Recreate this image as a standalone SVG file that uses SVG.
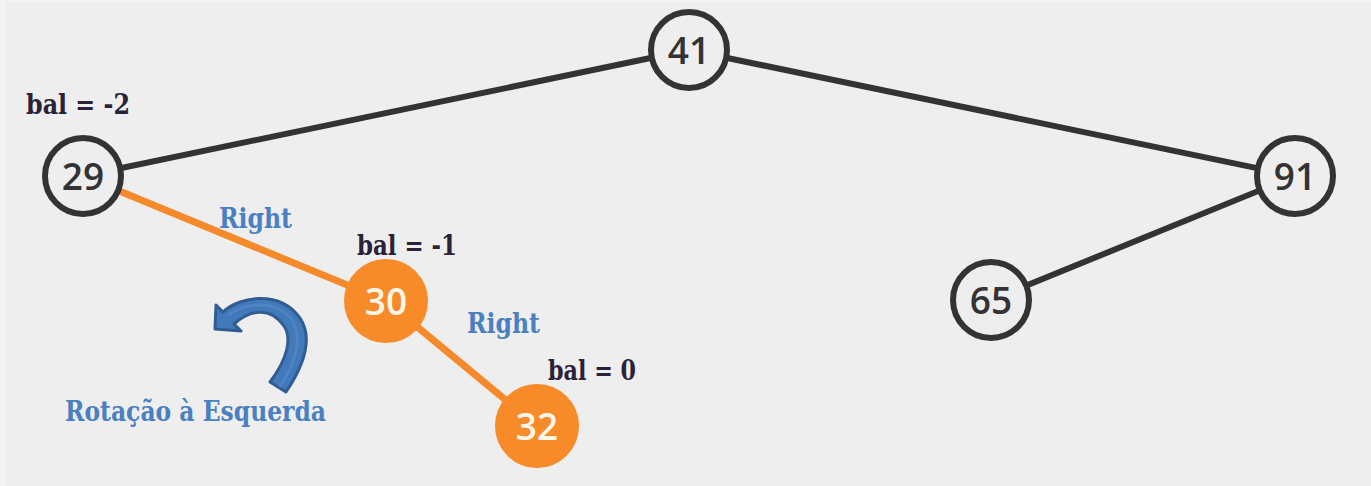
<svg xmlns="http://www.w3.org/2000/svg" width="1371" height="486" viewBox="0 0 1371 486">
  <style>
    .edge { stroke: #333333; stroke-width: 6; fill: none; stroke-linecap: round; }
    .edge-hot { stroke: #f58a2c; stroke-width: 7; fill: none; stroke-linecap: round; }
    .node { fill: #eeeeee; stroke: #333333; stroke-width: 6; }
    .node-hot { fill: #f78b2a; stroke: #f78b2a; stroke-width: 2; }
    .key { font-family: "Open Sans", "Noto Sans", sans-serif; font-weight: 600; font-size: 37px; text-anchor: middle; fill: #333333; }
    .key-hot { fill: #fff6ea; }
    .bal { font-family: "DejaVu Serif", "Liberation Serif", serif; font-weight: bold; font-size: 27px; fill: #2a2238; }
    .note { font-family: "DejaVu Serif", "Liberation Serif", serif; font-weight: bold; font-size: 27px; fill: #4a7fc1; }
  </style>

  <!-- canvas -->
  <rect x="0" y="0" width="1371" height="486" fill="#f3f4f6"/>
  <rect x="6" y="2" width="1365" height="484" fill="#eeeeee"/>

  <!-- connectors -->
  <g id="edges">
    <line class="edge" x1="689" y1="50" x2="83" y2="176"/>
    <line class="edge" x1="689" y1="50" x2="1295" y2="176"/>
    <line class="edge" x1="1295" y1="176" x2="991" y2="300"/>
    <line class="edge-hot" x1="83" y1="176" x2="386" y2="301"/>
    <line class="edge-hot" x1="386" y1="301" x2="537" y2="426"/>
  </g>

  <!-- nodes -->
  <g id="node-41">
    <circle class="node" cx="689" cy="50" r="38"/>
    <text class="key" x="689" y="63.5">41</text>
  </g>
  <g id="node-29">
    <circle class="node" cx="83" cy="176" r="38"/>
    <text class="key" x="83" y="189.5">29</text>
    <text class="bal" x="26" y="114" textLength="104" lengthAdjust="spacingAndGlyphs">bal = -2</text>
  </g>
  <g id="node-91">
    <circle class="node" cx="1295" cy="176" r="38"/>
    <text class="key" x="1295" y="189.5">91</text>
  </g>
  <g id="node-65">
    <circle class="node" cx="991" cy="300" r="38"/>
    <text class="key" x="991" y="313.5">65</text>
  </g>
  <g id="node-30">
    <circle class="node-hot" cx="386" cy="301" r="41"/>
    <text class="key key-hot" x="386" y="314.5">30</text>
    <text class="bal" x="357" y="255" textLength="100" lengthAdjust="spacingAndGlyphs">bal = -1</text>
  </g>
  <g id="node-32">
    <circle class="node-hot" cx="537" cy="426" r="41"/>
    <text class="key key-hot" x="537" y="439.5">32</text>
    <text class="bal" x="548" y="380" textLength="88" lengthAdjust="spacingAndGlyphs">bal = 0</text>
  </g>

  <!-- edge labels -->
  <g id="labels">
    <text class="note" x="219" y="228" textLength="73" lengthAdjust="spacingAndGlyphs">Right</text>
    <text class="note" x="467" y="333" textLength="73" lengthAdjust="spacingAndGlyphs">Right</text>
  </g>

  <!-- left rotation marker -->
  <g id="rotation">
    <path d="M 223 312 C 240 296 280 290 300 318 C 312 336 306 362 286 392 L 270 382 C 288 358 292 338 284 326 C 270 306 250 310 234 324 L 241 331 L 215 329 L 216 305 Z"
          fill="#4179ba" stroke="#305c92" stroke-width="3" stroke-linejoin="round"/>
    <path d="M 230 314 C 248 302 276 300 292 320 C 302 336 298 360 280 386" fill="none" stroke="#5289c8" stroke-width="3" stroke-linecap="round" opacity="0.7"/>
    <text class="note" x="65" y="421" textLength="261" lengthAdjust="spacingAndGlyphs">Rotação à Esquerda</text>
  </g>
</svg>
